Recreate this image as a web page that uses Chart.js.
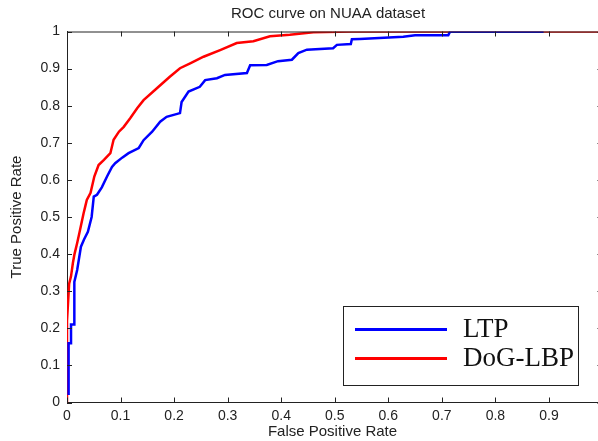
<!DOCTYPE html>
<html>
<head>
<meta charset="utf-8">
<script src="https://cdn.jsdelivr.net/npm/chart.js@4/dist/chart.umd.min.js"></script>
<style>
  html, body { margin: 0; padding: 0; background: #fff; overflow: hidden; }
  #wrap { width: 598px; height: 441px; }
</style>
</head>
<body>
<div id="wrap"><canvas id="roc-chart"></canvas></div>
<script>
// values
const chartTitle = "ROC curve on NUAA dataset";
const xAxisTitle = "False Positive Rate";
const yAxisTitle = "True Positive Rate";
const seriesNames = ["LTP", "DoG-LBP"];
const seriesColors = ["#0000ff", "#ff0000"];

const ltpFpr = [0.003, 0.003, 0.0075, 0.0075, 0.0137, 0.0137, 0.0137, 0.019, 0.022, 0.026, 0.032, 0.039, 0.046, 0.05,
  0.056, 0.065, 0.075, 0.084, 0.09, 0.103, 0.115, 0.134, 0.143, 0.159, 0.174, 0.186, 0.211, 0.214, 0.227, 0.248,
  0.258, 0.28, 0.295, 0.336, 0.342, 0.373, 0.394, 0.42, 0.432, 0.448, 0.497, 0.504, 0.53, 0.532, 0.547, 0.628,
  0.65, 0.712, 0.715, 0.89];
const ltpTpr = [0.02, 0.16, 0.16, 0.21, 0.21, 0.30, 0.325, 0.357, 0.384, 0.42, 0.44, 0.46, 0.50, 0.555,
  0.56, 0.58, 0.61, 0.635, 0.645, 0.66, 0.672, 0.686, 0.707, 0.73, 0.757, 0.77, 0.78, 0.81, 0.838, 0.851,
  0.869, 0.874, 0.883, 0.888, 0.909, 0.91, 0.92, 0.924, 0.942, 0.951, 0.955, 0.964, 0.966, 0.979, 0.98, 0.986,
  0.99, 0.99, 0.999, 0.999];

const dogFpr = [0, 0, 0.003, 0.004, 0.0075, 0.011, 0.014, 0.019, 0.023, 0.027, 0.031, 0.034, 0.037, 0.044, 0.051,
  0.059, 0.069, 0.081, 0.087, 0.097, 0.106, 0.118, 0.131, 0.143, 0.171, 0.192, 0.211, 0.23, 0.255, 0.286,
  0.317, 0.348, 0.379, 0.416, 0.46, 0.532, 1.0];
const dogTpr = [0, 0.22, 0.295, 0.32, 0.34, 0.376, 0.40, 0.43, 0.456, 0.483, 0.51, 0.528, 0.546, 0.565, 0.609,
  0.64, 0.654, 0.672, 0.708, 0.73, 0.743, 0.766, 0.793, 0.815, 0.851, 0.878, 0.901, 0.914, 0.932, 0.95,
  0.969, 0.974, 0.987, 0.991, 0.998, 1.0, 1.0];

const xTickValues = [0, 0.1, 0.2, 0.3, 0.4, 0.5, 0.6, 0.7, 0.8, 0.9];
const yTickValues = [0, 0.1, 0.2, 0.3, 0.4, 0.5, 0.6, 0.7, 0.8, 0.9, 1];

function toPoints(xs, ys) {
  return xs.map((x, i) => ({ x: x, y: ys[i] }));
}

// MATLAB-like box: top line plus inward ticks on all four sides
const boxTicks = {
  id: "boxTicks",
  afterDraw(chart) {
    const { ctx, chartArea: a, scales: { x, y } } = chart;
    const len = 5;
    const xRight = x.getPixelForValue(1);
    ctx.save();
    ctx.strokeStyle = "#222";
    ctx.lineWidth = 1;
    ctx.beginPath();
    ctx.moveTo(a.left, a.top + 0.5);
    ctx.lineTo(a.right, a.top + 0.5);
    xTickValues.forEach(v => {
      const px = Math.round(x.getPixelForValue(v)) + 0.5;
      ctx.moveTo(px, a.bottom);
      ctx.lineTo(px, a.bottom - len);
      ctx.moveTo(px, a.top);
      ctx.lineTo(px, a.top + len);
    });
    yTickValues.forEach(v => {
      const py = Math.round(y.getPixelForValue(v)) + 0.5;
      ctx.moveTo(a.left, py);
      ctx.lineTo(a.left + len, py);
      ctx.moveTo(xRight, py);
      ctx.lineTo(xRight - len, py);
    });
    ctx.stroke();

    // title over the axes
    ctx.fillStyle = "#222";
    ctx.font = "15px 'Liberation Sans', Arial, sans-serif";
    ctx.textAlign = "center";
    ctx.textBaseline = "middle";
    ctx.fillText(chartTitle, 328, 14);
    ctx.restore();
  }
};

// legend box in the lower right corner
const boxLegend = {
  id: "boxLegend",
  afterDatasetsDraw(chart) {
    const { ctx, chartArea: a } = chart;
    const w = 235, h = 79;
    const left = a.right - 20 - w;
    const top = a.bottom - 18 - h;
    ctx.save();
    ctx.fillStyle = "#fff";
    ctx.fillRect(left, top, w, h);
    ctx.strokeStyle = "#222";
    ctx.lineWidth = 1;
    ctx.strokeRect(Math.round(left) + 0.5, Math.round(top) + 0.5, w, h);
    ctx.font = "27px 'Liberation Serif', 'Times New Roman', serif";
    ctx.textAlign = "left";
    ctx.textBaseline = "middle";
    chart.data.datasets.forEach((ds, i) => {
      const ly = top + 24 + i * 29;
      ctx.strokeStyle = ds.borderColor;
      ctx.lineWidth = 3;
      ctx.beginPath();
      ctx.moveTo(left + 12, ly);
      ctx.lineTo(left + 104, ly);
      ctx.stroke();
      ctx.fillStyle = "#111";
      ctx.fillText(ds.label, left + 120, ly);
    });
    ctx.restore();
  }
};

const ctx = document.getElementById("roc-chart").getContext("2d");
const chart = new Chart(ctx, {
  type: "line",
  data: {
    datasets: [
      {
        label: seriesNames[0],
        data: toPoints(ltpFpr, ltpTpr),
        borderColor: seriesColors[0],
        borderWidth: 2.5,
        pointRadius: 0,
        tension: 0,
        fill: false
      },
      {
        label: seriesNames[1],
        data: toPoints(dogFpr, dogTpr),
        borderColor: seriesColors[1],
        borderWidth: 2.5,
        pointRadius: 0,
        tension: 0,
        fill: false
      }
    ]
  },
  options: {
    responsive: true,
    maintainAspectRatio: false,
    animation: false,
    layout: { padding: { top: 31.5, left: 0, right: 0, bottom: 0 } },
    plugins: {
      legend: { display: false },
      title: { display: false },
      tooltip: { enabled: false }
    },
    scales: {
      x: {
        type: "linear",
        min: 0,
        max: 0.9916,
        afterBuildTicks: s => { s.ticks = xTickValues.map(v => ({ value: v })); },
        afterFit: s => { s.height = 38.5; },
        grid: { drawOnChartArea: false, drawTicks: false },
        border: { display: true, color: "#222", width: 1 },
        ticks: {
          padding: 5,
          color: "#222",
          maxRotation: 0,
          font: { family: "'Liberation Sans', Arial, sans-serif", size: 14 },
          callback: v => String(v)
        },
        title: {
          display: true,
          text: xAxisTitle,
          color: "#222",
          padding: { top: 0, bottom: 0 },
          font: { family: "'Liberation Sans', Arial, sans-serif", size: 15 }
        }
      },
      y: {
        type: "linear",
        min: 0,
        max: 1,
        afterBuildTicks: s => { s.ticks = yTickValues.map(v => ({ value: v })); },
        afterFit: s => { s.width = 67; },
        grid: { drawOnChartArea: false, drawTicks: false },
        border: { display: true, color: "#222", width: 1 },
        ticks: {
          padding: 7,
          color: "#222",
          font: { family: "'Liberation Sans', Arial, sans-serif", size: 14 },
          callback: v => String(v)
        },
        title: {
          display: true,
          text: yAxisTitle,
          color: "#222",
          padding: { top: 8, bottom: 0 },
          font: { family: "'Liberation Sans', Arial, sans-serif", size: 15 }
        }
      }
    }
  },
  plugins: [boxTicks, boxLegend]
});
</script>
</body>
</html>
